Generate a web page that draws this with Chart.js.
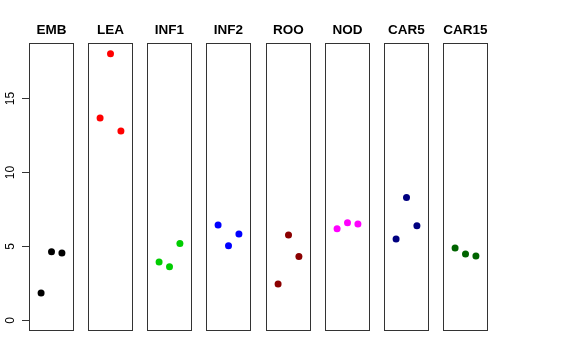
<!DOCTYPE html>
<html>
<head>
<meta charset="utf-8">
<script src="https://cdn.jsdelivr.net/npm/chart.js@4/dist/chart.umd.min.js"></script>
<style>
body { margin: 0; background: #fff; }
#wrap { position: relative; width: 576px; height: 360px; }
#wrap canvas { position: absolute; top: 0; }
</style>
</head>
<body>
<div id="wrap"></div>
<script>
// panel names and the three values of each panel
const groups = ['EMB', 'LEA', 'INF1', 'INF2', 'ROO', 'NOD', 'CAR5', 'CAR15'];
const embValues = [1.85, 4.64, 4.55];
const leaValues = [13.68, 18.04, 12.80];
const inf1Values = [3.95, 3.63, 5.20];
const inf2Values = [6.45, 5.05, 5.84];
const rooValues = [2.46, 5.77, 4.32];
const nodValues = [6.20, 6.60, 6.51];
const car5Values = [5.50, 8.31, 6.40];
const car15Values = [4.89, 4.49, 4.35];
const groupValues = [embValues, leaValues, inf1Values, inf2Values, rooValues, nodValues, car5Values, car15Values];
const groupColors = ['#000000', '#FF0000', '#00CD00', '#0000FF', '#8B0000', '#FF00FF', '#000080', '#006400'];
const yTicks = [0, 5, 10, 15];

// draws the frame round each panel
const boxPlugin = {
    id: 'panelBox',
    afterDraw(chart) {
        const { ctx, chartArea: a } = chart;
        ctx.save();
        ctx.strokeStyle = '#333';
        ctx.lineWidth = 1;
        ctx.strokeRect(a.left + 0.5, a.top + 0.5, a.width - 1, a.height - 1);
        ctx.restore();
    }
};

const wrap = document.getElementById('wrap');

groups.forEach(function (name, i) {
    const boxLeft = Math.round(29 + 59.15 * i);
    const first = (i === 0);
    const canvas = document.createElement('canvas');
    const left = first ? 0 : boxLeft - 10;
    const width = first ? boxLeft + 45 : 65;
    canvas.width = width;
    canvas.height = 360;
    canvas.style.left = left + 'px';
    canvas.style.width = width + 'px';
    canvas.style.height = '360px';
    wrap.appendChild(canvas);

    new Chart(canvas.getContext('2d'), {
        type: 'scatter',
        data: {
            datasets: [{
                data: groupValues[i].map((v, j) => ({ x: j + 1, y: v })),
                backgroundColor: groupColors[i],
                borderWidth: 0,
                pointRadius: 3.5,
                pointHoverRadius: 3.5
            }]
        },
        options: {
            responsive: false,
            animation: false,
            devicePixelRatio: 1,
            layout: {
                autoPadding: false,
                padding: { left: first ? 0 : 10, right: first ? 0 : 10, top: 0, bottom: 29 }
            },
            plugins: {
                legend: { display: false },
                tooltip: { enabled: false },
                title: {
                    display: true,
                    text: name,
                    fullSize: false,
                    color: '#000',
                    font: { size: 13.5, weight: 'bold', family: 'Liberation Sans', lineHeight: 1 },
                    padding: { top: 23.5, bottom: 6 }
                }
            },
            scales: {
                x: {
                    type: 'linear',
                    min: -0.16,
                    max: 4.16,
                    display: false
                },
                y: {
                    type: 'linear',
                    min: -0.72,
                    max: 18.76,
                    bounds: 'data',
                    display: first,
                    afterBuildTicks: function (scale) {
                        scale.ticks = yTicks.map(v => ({ value: v }));
                    },
                    afterFit: function (scale) {
                        if (first) scale.width = 29;
                    },
                    border: { display: false },
                    grid: {
                        drawOnChartArea: false,
                        drawTicks: true,
                        tickLength: 7,
                        color: '#333'
                    },
                    ticks: {
                        color: '#000',
                        padding: 5,
                        minRotation: 90,
                        maxRotation: 90,
                        crossAlign: 'center',
                        font: { size: 12, family: 'Liberation Sans' }
                    }
                }
            }
        },
        plugins: [boxPlugin]
    });
});
</script>
</body>
</html>
